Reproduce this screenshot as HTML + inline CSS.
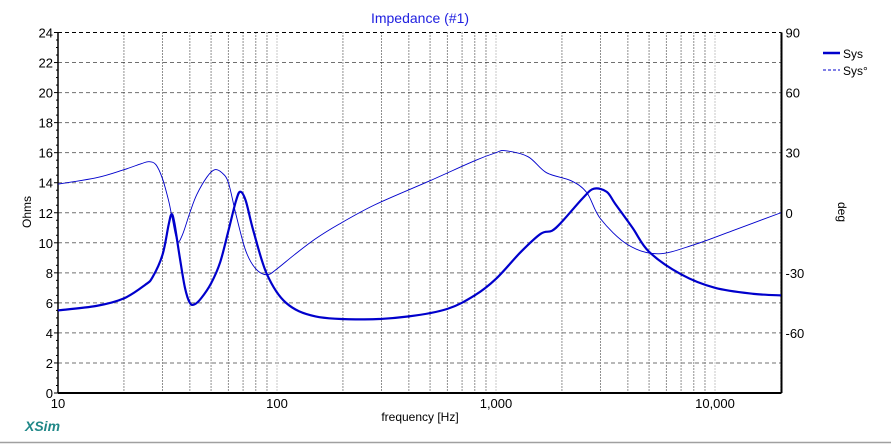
<!DOCTYPE html>
<html><head><meta charset="utf-8"><style>
html,body{margin:0;padding:0;background:#fff;}
svg{display:block;font-family:"Liberation Sans",Arial,sans-serif;}
</style></head><body>
<svg id="chart" width="891" height="444" viewBox="0 0 891 444">
<rect x="0" y="0" width="891" height="444" fill="#fff"/>
<line x1="0" y1="442.5" x2="891" y2="442.5" stroke="#a0a0a0" stroke-width="1.5"/>
<text x="420" y="23" font-size="14" fill="#2020e0" text-anchor="middle">Impedance (#1)</text>
<g id="grid"></g>
<g id="axes"></g>
<g id="series"></g>
<text x="420" y="421" font-size="12" text-anchor="middle" fill="#000">frequency [Hz]</text>
<text transform="translate(31,212) rotate(-90)" font-size="12" text-anchor="middle" fill="#000">Ohms</text>
<text transform="translate(838,212) rotate(90)" font-size="12" text-anchor="middle" fill="#000">deg</text>
<text x="25" y="431" font-size="14" font-weight="bold" font-style="italic" fill="#208888">XSim</text>
<g>
<g><line x1="823" y1="53" x2="840" y2="53" stroke="#0000cc" stroke-width="2.5"/><text x="843" y="58" font-size="12">Sys</text></g>
<g><line x1="823" y1="70" x2="840" y2="70" stroke="#0000cc" stroke-width="1" stroke-dasharray="3,2"/><text x="843" y="75" font-size="12">Sys°</text></g>
</g>
</svg>
<script>
const freqZ = [10,15,20,25,27,30,32,33,34,36,38,40,42,45,50,55,60,65,68,72,78,90,110,150,250,400,600,800,1000,1300,1600,1800,2000,2500,2800,3200,3500,4200,5000,7000,10000,15000,20000];
const ohms  = [5.5,5.8,6.3,7.2,7.7,9.2,11.2,11.9,11.3,9.0,7.0,6.0,5.9,6.3,7.3,8.7,10.8,12.8,13.4,12.8,10.8,7.9,6.0,5.1,4.9,5.1,5.6,6.5,7.6,9.4,10.6,10.8,11.4,13.0,13.6,13.4,12.6,11.0,9.4,7.9,7.0,6.6,6.5];
const freqP = [10,15,20,24,26,28,30,32,33,35,37,40,43,48,52,56,60,65,72,80,90,100,120,150,190,280,500,800,1000,1100,1400,1700,2200,2600,3000,4000,5500,8000,12000,20000];
const phase = [14.3,17.5,21.5,24.5,25.5,24,17,6,-1,-14,-11,0,9,18,21.5,20,15,-1,-19,-28,-31,-28,-21,-13,-6,4,16,26,30,31,28,20,16,10,-3,-16,-20.5,-16,-9,0];
const yTicks = [0,2,4,6,8,10,12,14,16,18,20,22,24];
const y2Ticks = [90,60,30,0,-30,-60];
const xLabels = [[10,"10"],[100,"100"],[1000,"1,000"],[10000,"10,000"]];

const L=58,R=781.5,T=32.5,B=393, DEC=219;
const X=f=>L+Math.log10(f/10)*DEC;
const Y=v=>B-(v/24)*(B-T);
const Y2=d=>T+(90-d)/180*(B-T);
const NS="http://www.w3.org/2000/svg";
function mk(parent,tag,attrs){const e=document.createElementNS(NS,tag);for(const k in attrs)e.setAttribute(k,attrs[k]);parent.appendChild(e);return e;}
const grid=document.getElementById('grid'),axes=document.getElementById('axes'),series=document.getElementById('series');

for(const v of yTicks){
  if(v>0){const g=mk(grid,'line',{x1:L,x2:R,y1:Y(v),y2:Y(v),stroke:'#707070','stroke-dasharray':'4,3','stroke-width':1});
  
  }
  const t=mk(axes,'text',{x:L-5,y:Y(v)+5,'font-size':13,'text-anchor':'end',fill:'#000'});t.textContent=v;
  
  
  mk(axes,'line',{x1:L-4,x2:L,y1:Y(v),y2:Y(v),stroke:'#000'});
}
for(let v=0.5;v<24;v+=0.5){ if(v%2) mk(axes,'line',{x1:L-2,x2:L,y1:Y(v),y2:Y(v),stroke:'#000'}); }
for(const d of y2Ticks){
  const t=mk(axes,'text',{x:R+4,y:Y2(d)+5,'font-size':13,fill:'#000'});t.textContent=d;
  
  
}
for(let dec=10;dec<=10000;dec*=10){
  for(let m=1;m<=9;m++){const f=dec*m; if(f>20000||f===10) continue; if(X(f)>R) continue;
    const g=mk(grid,'line',{x1:X(f),x2:X(f),y1:T,y2:B,stroke:m===1?'#909090':'#202020','stroke-dasharray':'1,2','stroke-width':1});
    
    }
}
for(const [f,s] of xLabels){const t=mk(axes,'text',{x:X(f),y:B+15,'font-size':13,'text-anchor':'middle',fill:'#000'});t.textContent=s;
  
  }
mk(axes,'line',{x1:L,x2:R,y1:T,y2:T,stroke:'#000','stroke-dasharray':'4,3'});
mk(axes,'line',{x1:L,x2:L,y1:T,y2:B,stroke:'#000','stroke-width':1.5});
mk(axes,'line',{x1:R,x2:R,y1:T,y2:B,stroke:'#000','stroke-width':2});
mk(axes,'line',{x1:L,x2:R,y1:B,y2:B,stroke:'#000','stroke-width':2});

function smooth(pts){let d=`M${pts[0][0]},${pts[0][1]}`;
  for(let i=0;i<pts.length-1;i++){const p0=pts[i-1]||pts[i],p1=pts[i],p2=pts[i+1],p3=pts[i+2]||p2;
    d+=` C${p1[0]+(p2[0]-p0[0])/6},${p1[1]+(p2[1]-p0[1])/6} ${p2[0]-(p3[0]-p1[0])/6},${p2[1]-(p3[1]-p1[1])/6} ${p2[0]},${p2[1]}`;}
  return d;}
const zp=mk(series,'path',{d:smooth(freqZ.map((f,i)=>[X(f),Y(ohms[i])])),fill:'none',stroke:'#0000cc','stroke-width':2.2});


const pp=mk(series,'path',{d:smooth(freqP.map((f,i)=>[X(f),Y2(phase[i])])),fill:'none',stroke:'#0000cc','stroke-width':0.9});


</script>
</body></html>
